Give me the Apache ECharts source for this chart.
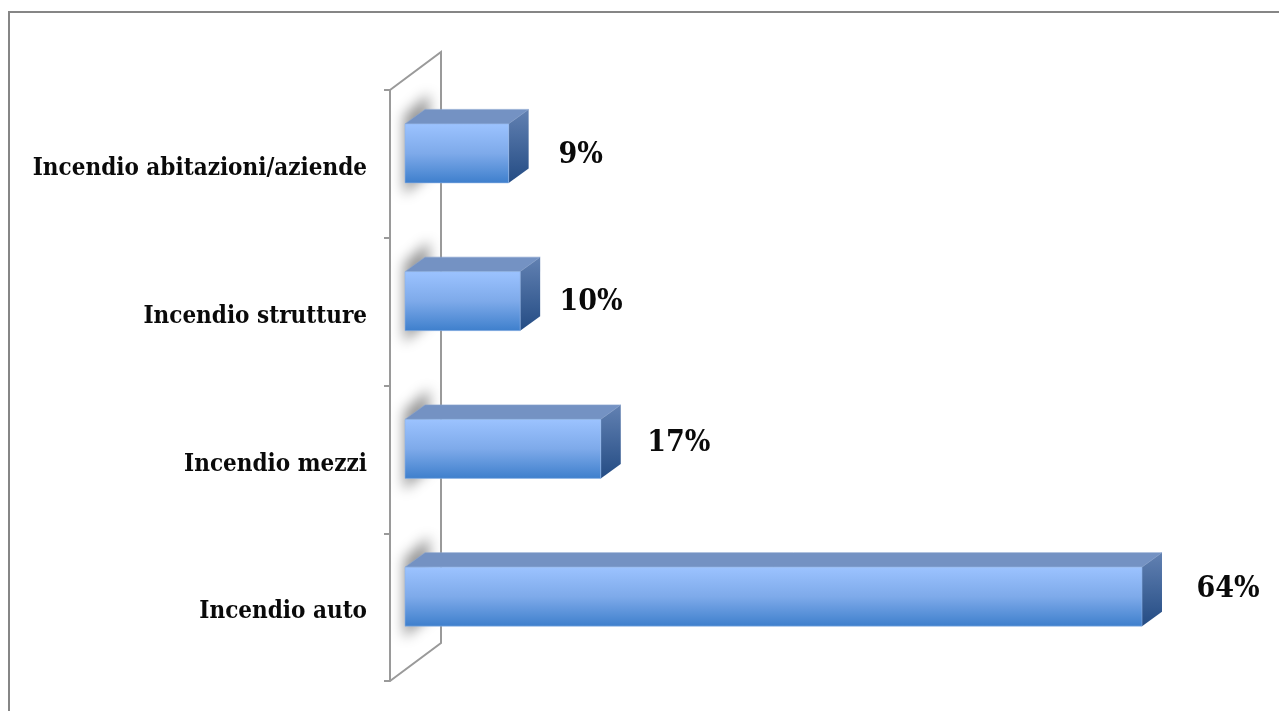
<!DOCTYPE html>
<html>
<head>
<meta charset="utf-8">
<script src="https://cdn.jsdelivr.net/npm/echarts@6/dist/echarts.min.js"></script>
<style>html,body{margin:0;padding:0;background:#fff}#c{width:1279px;height:711px}</style>
</head>
<body>
<div id="c"></div>
<script>
var categories = ['Incendio auto', 'Incendio mezzi', 'Incendio strutture', 'Incendio abitazioni/aziende'];
var values = [64, 17, 10, 9];
var valueLabels = ['64%', '17%', '10%', '9%'];
var labelShiftX = [86, 78, 71, 72];
var labelShiftY = [-7, -6, 1, 2];

var FONT = '"DejaVu Serif Condensed", "DejaVu Serif", serif';
var DX = 20, DY = 14.5, BAR_H = 59, LIFT = 10.5;
var WALL_DX = 51, WALL_DY = 38, AXIS_OFFSET = 15;

function grad(stops) {
  return new echarts.graphic.LinearGradient(0, 0, 0, 1, stops.map(function (c, i) {
    return { offset: i / (stops.length - 1), color: c };
  }));
}

function renderWall(params) {
  var g = params.coordSys;
  var xl = g.x - AXIS_OFFSET, top = g.y, bot = g.y + g.height;
  return {
    type: 'polyline',
    shape: { points: [[xl, bot], [xl + WALL_DX, bot - WALL_DY], [xl + WALL_DX, top - WALL_DY], [xl, top]] },
    style: { fill: null, stroke: '#9a9a9a', lineWidth: 2 },
    silent: true
  };
}

function renderShadow(params, api) {
  var p0 = api.coord([0, api.value(1)]);
  var cy = p0[1] - LIFT, x = p0[0];
  var far = 3000;
  return {
    type: 'polygon',
    shape: { points: [
      [x - far - 1, cy - 38], [x - far + 24, cy - 60], [x - far + 24, cy + 20], [x - far - 1, cy + 41]
    ] },
    style: { fill: '#888', shadowColor: 'rgba(150,150,150,1)', shadowBlur: 13, shadowOffsetX: far, shadowOffsetY: 0 },
    silent: true
  };
}

function renderBar(params, api) {
  var i = params.dataIndex;
  var p0 = api.coord([0, api.value(1)]);
  var p1 = api.coord([api.value(0), api.value(1)]);
  var t = p0[1] - LIFT - BAR_H / 2, b = t + BAR_H, l = p0[0], r = p1[0];
  return {
    type: 'group',
    children: [
      { type: 'polygon',
        shape: { points: [[l, t], [l + DX, t - DY], [r + DX, t - DY], [r, t]] },
        style: { fill: '#7492c3', stroke: '#8aa5d0', lineWidth: 0.6 } },
      { type: 'polygon',
        shape: { points: [[r, t], [r + DX, t - DY], [r + DX, b - DY], [r, b]] },
        style: { fill: grad(['#6281b2', '#244c84']) } },
      { type: 'rect',
        shape: { x: l, y: t, width: r - l, height: BAR_H },
        style: { fill: grad(['#9cc3ff', '#7eaaea', '#3e7fcc']), stroke: '#8fb4e6', lineWidth: 0.6 } },
      { type: 'text',
        style: {
          x: r + labelShiftX[i], y: p0[1] - LIFT + labelShiftY[i] + 0,
          text: valueLabels[i], font: 'bold 30px ' + FONT, fill: '#0a0a0a',
          align: 'center', verticalAlign: 'middle'
        } }
    ]
  };
}

var chart = echarts.init(document.getElementById('c'), null, { renderer: 'canvas' });
chart.setOption({
  animation: false,
  backgroundColor: '#fff',
  grid: { left: 405, top: 90, width: 737, height: 591, containLabel: false },
  xAxis: { type: 'value', min: 0, max: 64, show: false },
  yAxis: {
    type: 'category', data: categories, offset: AXIS_OFFSET,
    axisLine: { show: true, onZero: false, lineStyle: { color: '#9a9a9a', width: 2 } },
    axisTick: { show: true, length: 6, lineStyle: { color: '#9a9a9a', width: 2 } },
    axisLabel: { margin: 23, color: '#0a0a0a', fontFamily: FONT, fontWeight: 'bold', fontSize: 24, verticalAlign: 'top', lineHeight: 10 },
    splitLine: { show: false }
  },
  graphic: [{
    type: 'rect', silent: true, z: 0,
    shape: { x: 9, y: 12, width: 1400, height: 800 },
    style: { fill: null, stroke: '#868686', lineWidth: 2 }
  }],
  series: [
    { type: 'custom', coordinateSystem: 'cartesian2d', clip: false, z: 1, silent: true, data: [[0, 0]], renderItem: renderWall },
    { type: 'custom', coordinateSystem: 'cartesian2d', clip: false, z: 2, silent: true,
      data: values.map(function (v, i) { return [v, i]; }), renderItem: renderShadow },
    { type: 'custom', coordinateSystem: 'cartesian2d', clip: false, z: 3, silent: true,
      data: values.map(function (v, i) { return [v, i]; }), renderItem: renderBar }
  ]
});
</script>
</body>
</html>
